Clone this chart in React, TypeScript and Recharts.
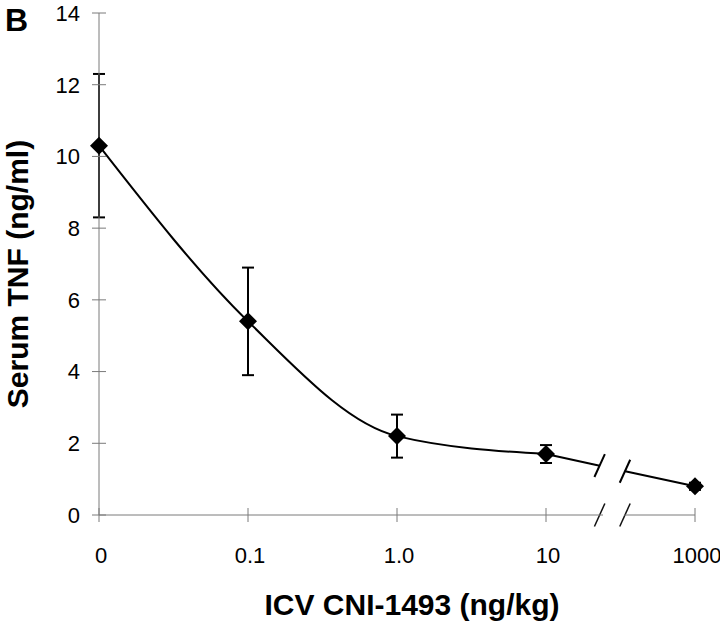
import { ComposedChart, Line, Scatter, ErrorBar, XAxis, YAxis, ReferenceLine } from 'recharts';

const doseLabels = ['0', '0.1', '1.0', '10', '1000'];
const tnfValues = [10.3, 5.4, 2.2, 1.7, 0.8];
const tnfErrors = [2.0, 1.5, 0.6, 0.25, 0.1];
const yTicks = [0, 2, 4, 6, 8, 10, 12, 14];

// axis break between "10" and "1000" (in x index units)
const breakX = [3.36, 3.53];
const lineBreakY = [1.38, 1.22];

const rows = doseLabels.map((label, i) => ({ x: i, label, tnf: tnfValues[i], sem: tnfErrors[i] }));

const FONT = '"Liberation Sans", Arial, sans-serif';
const AXIS = '#7a7a7a';
const TICK = 7;

const Diamond = (props: any) => {
    const { cx, cy } = props;
    if (cx == null || cy == null) return null;
    return <polygon points={`${cx},${cy - 9} ${cx + 9},${cy} ${cx},${cy + 9} ${cx - 9},${cy}`} fill="#000" />;
};

const YTick = (props: any) => {
    const { x, y, payload } = props;
    const ax = x + TICK + 12;
    return (
        <g>
            <line x1={ax - TICK} x2={ax + TICK} y1={y} y2={y} stroke={AXIS} />
            <text x={x} y={y} dy="0.36em" textAnchor="end" fontSize={22} fontFamily={FONT} fill="#000">
                {payload.value}
            </text>
        </g>
    );
};

const XTick = (props: any) => {
    const { x, y, payload } = props;
    const ay = y - TICK - 25;
    return (
        <g>
            <line x1={x} x2={x} y1={ay - TICK} y2={ay + TICK} stroke={AXIS} />
            <text x={x + 2} y={y} dy="0.72em" textAnchor="middle" fontSize={22} fontFamily={FONT} fill="#000">
                {doseLabels[payload.value]}
            </text>
        </g>
    );
};

export default function App() {
    return (
        <div style={{ position: 'absolute', left: 0, top: 0, width: 720, height: 625, background: '#fff', fontFamily: FONT }}>
            <ComposedChart width={720} height={625} margin={{ top: 13, right: 25, left: 0, bottom: 0 }}>
                <XAxis
                    type="number"
                    dataKey="x"
                    domain={[0, 4]}
                    ticks={[0, 1, 2, 3, 4]}
                    height={110}
                    tickSize={TICK}
                    tickMargin={25}
                    tickLine={false}
                    tick={<XTick />}
                    axisLine={{ stroke: AXIS, strokeDasharray: '504 21 200' }}
                />
                <YAxis
                    type="number"
                    dataKey="tnf"
                    domain={[0, 14]}
                    ticks={yTicks}
                    width={99}
                    tickSize={TICK}
                    tickMargin={12}
                    tickLine={false}
                    tick={<YTick />}
                    axisLine={{ stroke: AXIS }}
                />
                {/* smoothed curve up to 10 ng/kg */}
                <Line
                    data={rows.slice(0, 4)}
                    dataKey="tnf"
                    type="monotone"
                    stroke="#000"
                    strokeWidth={2}
                    dot={false}
                    isAnimationActive={false}
                />
                {/* broken segment 10 -> 1000 */}
                <Line
                    data={rows.slice(3)}
                    dataKey="tnf"
                    type="linear"
                    stroke="#000"
                    strokeWidth={2}
                    strokeDasharray="55 26 200"
                    dot={false}
                    isAnimationActive={false}
                />
                <Scatter data={rows} dataKey="tnf" shape={<Diamond />} isAnimationActive={false}>
                    <ErrorBar dataKey="sem" direction="y" width={6} stroke="#000" strokeWidth={2} />
                </Scatter>
                {breakX.map((bx, i) => (
                    <ReferenceLine
                        key={`ax${i}`}
                        segment={[{ x: bx - 0.035, y: -0.32 }, { x: bx + 0.035, y: 0.32 }]}
                        stroke="#111"
                        strokeWidth={1.5}
                        ifOverflow="visible"
                    />
                ))}
                {breakX.map((bx, i) => (
                    <ReferenceLine
                        key={`ln${i}`}
                        segment={[{ x: bx - 0.035, y: lineBreakY[i] - 0.32 }, { x: bx + 0.035, y: lineBreakY[i] + 0.32 }]}
                        stroke="#000"
                        strokeWidth={2}
                        ifOverflow="visible"
                    />
                ))}
            </ComposedChart>
            <div style={{ position: 'absolute', left: 5, top: 3, fontSize: 32, fontWeight: 'bold', lineHeight: '34px' }}>B</div>
            <div
                style={{
                    position: 'absolute',
                    left: 412,
                    top: 590,
                    transform: 'translateX(-50%)',
                    fontSize: 30,
                    fontWeight: 'bold',
                    lineHeight: 1,
                    whiteSpace: 'nowrap',
                }}
            >
                ICV CNI-1493 (ng/kg)
            </div>
            <div
                style={{
                    position: 'absolute',
                    left: 18 - 200,
                    top: 274 - 15,
                    width: 400,
                    height: 30,
                    textAlign: 'center',
                    transform: 'rotate(-90deg)',
                    fontSize: 30,
                    fontWeight: 'bold',
                    lineHeight: '30px',
                    whiteSpace: 'nowrap',
                }}
            >
                Serum TNF (ng/ml)
            </div>
        </div>
    );
}
